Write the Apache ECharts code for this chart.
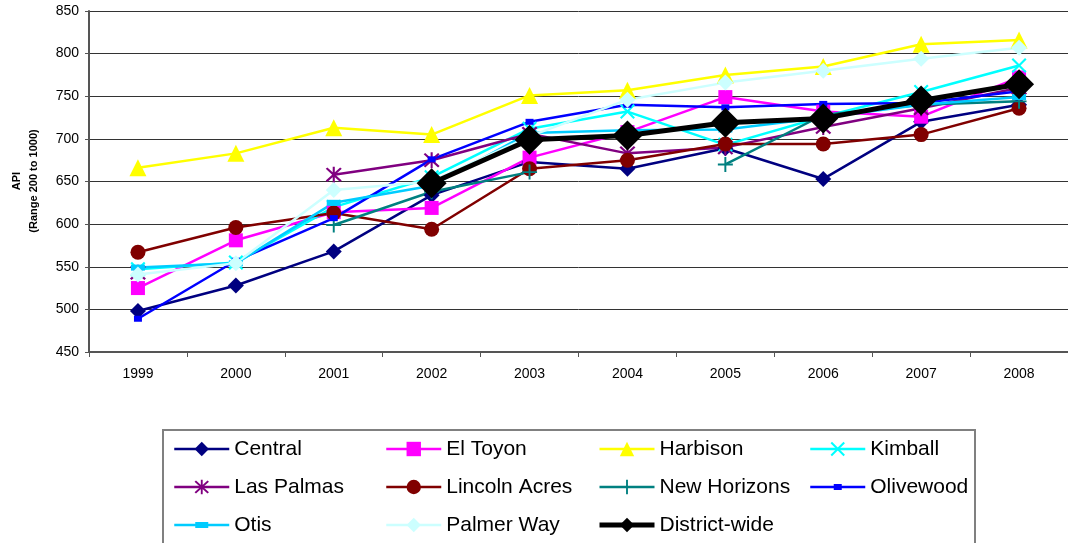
<!DOCTYPE html>
<html>
<head>
<meta charset="utf-8">
<title>API by School, 1999-2008</title>
<script src="https://cdn.jsdelivr.net/npm/echarts@6/dist/echarts.min.js"></script>
<style>
  html, body { margin: 0; padding: 0; background: #fff; }
  #chart { width: 1068px; height: 543px; }
</style>
</head>
<body>
<div id="chart"></div>
<script>
// School years on the category axis
const years = ['1999', '2000', '2001', '2002', '2003', '2004', '2005', '2006', '2007', '2008'];

// API scores per school (null = no score reported that year)
const central      = [498, 528, 568, 634, 673, 665, 689, 653, 720, 740];
const elToyon      = [525, 581, 614, 619, 678, 708, 749, 732, 726, 772];
const harbison     = [666, 683, 713, 705, 751, 757, 775, 785, 811, 816];
const kimball      = [547, 555, 620, 655, 712, 732, 693, 726, 755, 786];
const lasPalmas    = [543, null, 658, 675, 706, 683, 690, 714, 736, 760];
const lincolnAcres = [567, 596, 613, 594, 665, 675, 694, 694, 705, 736];
const newHorizons  = [null, null, 599, 638, 661, null, 670, 728, 740, 744];
const olivewood    = [489, 557, 607, 676, 720, 740, 737, 741, 742, 756];
const otis         = [549, 554, 625, 645, 707, 710, 711, 725, 740, 749];
const palmerWay    = [541, 554, 640, 650, 703, 746, 766, 780, 794, 807];
const districtWide = [null, null, null, 648, 699, 704, 719, 724, 745, 764];

// Value axis ticks
const yMin = 450, yMax = 850, yStep = 50;

const FONT = '"Liberation Sans", Arial, sans-serif';

// Marker shapes drawn as filled outlines
const X_PATH = 'path://M-10,-8 L-8,-10 L0,-2 L8,-10 L10,-8 L2,0 L10,8 L8,10 L0,2 L-8,10 L-10,8 L-2,0 Z';
const PLUS_PATH = 'path://M-1.3,-10 L1.3,-10 L1.3,-1.3 L10,-1.3 L10,1.3 L1.3,1.3 L1.3,10 L-1.3,10 L-1.3,1.3 L-10,1.3 L-10,-1.3 L-1.3,-1.3 Z';
const STAR_PATH = 'path://M-10,-8 L-8,-10 L0,-2 L8,-10 L10,-8 L2,0 L10,8 L8,10 L0,2 L-8,10 L-10,8 L-2,0 Z M-1.3,-11 L1.3,-11 L1.3,11 L-1.3,11 Z';

// Legend icons for the flat rectangle markers: line segment with a small bar in the middle
const OTIS_ICON = 'path://M0,1.75 L21,1.75 L21,0 L34,0 L34,1.75 L55,1.75 L55,4.25 L34,4.25 L34,6 L21,6 L21,4.25 L0,4.25 Z';
const OLIVE_ICON = 'path://M0,1.75 L23.5,1.75 L23.5,0 L31.5,0 L31.5,1.75 L55,1.75 L55,4.25 L31.5,4.25 L31.5,6 L23.5,6 L23.5,4.25 L0,4.25 Z';

function line(name, data, color, symbol, size, width) {
  return {
    name: name,
    type: 'line',
    data: data,
    symbol: symbol,
    symbolSize: size,
    showSymbol: true,
    connectNulls: false,
    lineStyle: { color: color, width: width || 2.5 },
    itemStyle: { color: color, borderWidth: 0 },
    emphasis: { disabled: true },
    z: 2
  };
}

const series = [
  line('Central', central, '#000080', 'diamond', 16),
  line('El Toyon', elToyon, '#FF00FF', 'rect', 14),
  line('Harbison', harbison, '#FFFF00', 'triangle', 17),
  line('Kimball', kimball, '#00FFFF', X_PATH, 15),
  line('Las Palmas', lasPalmas, '#800080', STAR_PATH, 16),
  line('Lincoln Acres', lincolnAcres, '#800000', 'circle', 15),
  line('New Horizons', newHorizons, '#008080', PLUS_PATH, 15),
  line('Olivewood', olivewood, '#0000FF', 'rect', [8, 6]),
  line('Otis', otis, '#00CCFF', 'rect', [14, 6]),
  line('Palmer Way', palmerWay, '#CCFFFF', 'diamond', 16),
  line('District-wide', districtWide, '#000000', 'diamond', 30, 5)
];
series[series.length - 1].z = 3;

// Four legend columns, three rows
const legendCols = [
  ['Central', 'Las Palmas', 'Otis'],
  ['El Toyon', 'Lincoln Acres', 'Palmer Way'],
  ['Harbison', 'New Horizons', 'District-wide'],
  ['Kimball', 'Olivewood']
];
const legendX = [173, 385, 597, 809];

function legendItem(n) {
  if (n === 'District-wide') return { name: n, lineStyle: { width: 5 } };
  if (n === 'Otis') return { name: n, icon: OTIS_ICON };
  if (n === 'Olivewood') return { name: n, icon: OLIVE_ICON };
  return { name: n, lineStyle: { width: 2.5 } };
}

const legends = legendCols.map((names, i) => ({
  data: names.map(legendItem),
  orient: 'vertical',
  left: legendX[i],
  top: 437,
  padding: 0,
  itemWidth: 55,
  itemHeight: 18,
  itemGap: 14,
  symbolKeepAspect: true,
  selectedMode: false,
  textStyle: { fontFamily: FONT, fontSize: 21, color: '#000', lineHeight: 24 }
}));

const chart = echarts.init(document.getElementById('chart'), null, { renderer: 'canvas' });

chart.setOption({
  animation: false,
  backgroundColor: '#ffffff',
  textStyle: { fontFamily: FONT },
  grid: { left: 89, top: 11, width: 985, height: 341, containLabel: false },
  legend: legends,
  xAxis: {
    type: 'category',
    data: years,
    boundaryGap: true,
    axisLine: { show: true, lineStyle: { color: '#555', width: 2 } },
    axisTick: { show: true, length: 5, lineStyle: { color: '#555', width: 1 } },
    axisLabel: { interval: 0, margin: 15, fontSize: 14, color: '#000', fontFamily: FONT },
    splitLine: { show: false }
  },
  yAxis: {
    type: 'value',
    min: yMin,
    max: yMax,
    interval: yStep,
    axisLine: { show: true, lineStyle: { color: '#555', width: 2 } },
    axisTick: { show: true, length: 4, inside: false, lineStyle: { color: '#555', width: 1 } },
    axisLabel: { margin: 10, fontSize: 14, color: '#000', fontFamily: FONT },
    splitLine: { show: true, lineStyle: { color: '#333', width: 1 } }
  },
  graphic: [
    {
      type: 'text',
      x: 17, y: 181,
      rotation: Math.PI / 2,
      style: {
        text: 'API',
        fontFamily: FONT, fontSize: 11, fontWeight: 'bold', fill: '#000',
        align: 'center', verticalAlign: 'middle'
      }
    },
    {
      type: 'text',
      x: 34, y: 181,
      rotation: Math.PI / 2,
      style: {
        text: '(Range 200 to 1000)',
        fontFamily: FONT, fontSize: 11, fontWeight: 'bold', fill: '#000',
        align: 'center', verticalAlign: 'middle'
      }
    },
    {
      type: 'rect',
      shape: { x: 163, y: 430, width: 812, height: 130 },
      style: { fill: 'none', stroke: '#808080', lineWidth: 2 },
      z: -1
    }
  ],
  series: series
});
</script>
</body>
</html>
